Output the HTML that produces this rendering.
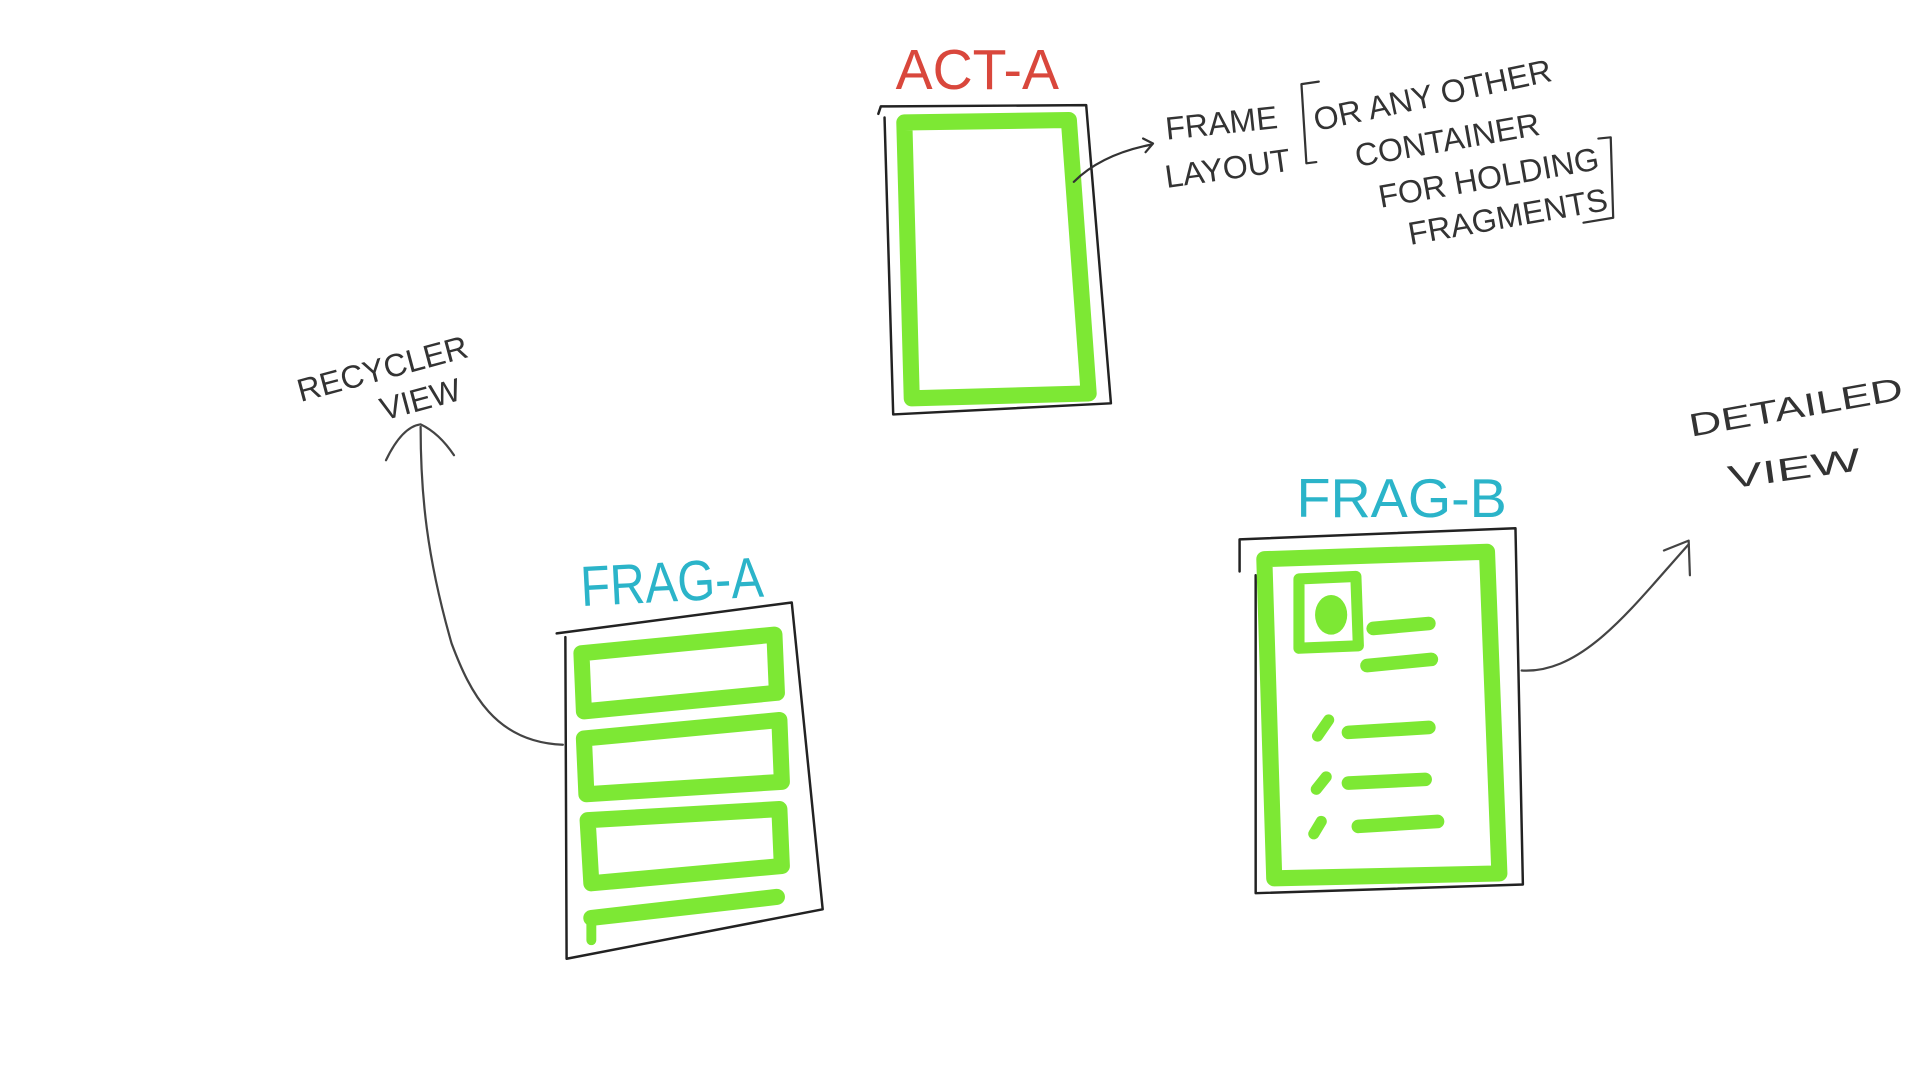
<!DOCTYPE html>
<html><head><meta charset="utf-8"><style>
html,body{margin:0;padding:0;background:#fff;width:1920px;height:1080px;overflow:hidden}
svg{display:block}
text{font-family:"Liberation Sans",sans-serif;}
.k{fill:#333;font-size:26px}
</style></head><body>
<svg width="1920" height="1080" viewBox="0 0 1552 873" xmlns="http://www.w3.org/2000/svg">
<g fill="none" stroke-linecap="round" stroke-linejoin="round">
<path d="M710,92 L712,86 L878,85 L898,326 L722,335 L715,95" stroke="#222" stroke-width="2"/>
<path d="M731,99 L864,97 L880,318 L737,322 Z" stroke="#7de834" stroke-width="13"/>
<path d="M868,147 Q890,125 930,117" stroke="#333" stroke-width="1.8"/>
<path d="M924,112 L932,116 L926,123" stroke="#333" stroke-width="1.8"/>
<path d="M1066,66 L1052,68 L1056,132 L1064,131" stroke="#333" stroke-width="1.8"/>
<path d="M1292,112 L1302,111 L1304,176 L1280,180" stroke="#333" stroke-width="1.8"/>
<path d="M455,602 C400,600 380,560 365,520 C345,450 340,400 340,345" stroke="#444" stroke-width="1.8"/>
<path d="M312,372 Q325,345 340,343 Q355,350 367,368" stroke="#444" stroke-width="1.8"/>
<path d="M450,512 L640,487 L665,735 L458,775 L457,515" stroke="#222" stroke-width="2"/>
<path d="M470,528 L626,513 L628,560 L472,575 Z" stroke="#7de834" stroke-width="13"/>
<path d="M472,597 L630,582 L632,632 L474,642 Z" stroke="#7de834" stroke-width="13"/>
<path d="M475,663 L630,654 L632,700 L478,714 Z" stroke="#7de834" stroke-width="13"/>
<path d="M478,742 L628,725" stroke="#7de834" stroke-width="13"/>
<path d="M478,745 L478,760" stroke="#7de834" stroke-width="8"/>
<path d="M1002,462 L1002,436 L1225,427 L1231,715 L1015,722 L1015,465" stroke="#222" stroke-width="2"/>
<path d="M1022,452 L1202,446 L1212,706 L1030,710 Z" stroke="#7de834" stroke-width="13"/>
<path d="M1050,468 L1096,466 L1098,522 L1050,524 Z" stroke="#7de834" stroke-width="9"/>
<ellipse cx="1076" cy="497" rx="13" ry="16" fill="#7de834" stroke="none"/>
<path d="M1110,508 L1155,504 M1105,538 L1157,533 M1090,592 L1155,588 M1090,633 L1152,630 M1098,668 L1162,664" stroke="#7de834" stroke-width="11"/>
<path d="M1065,595 L1074,582 M1064,638 L1072,628 M1062,674 L1068,664" stroke="#7de834" stroke-width="9"/>
<path d="M1230,542 C1280,545 1320,490 1365,440" stroke="#444" stroke-width="1.8"/>
<path d="M1345,445 L1365,437 L1366,465" stroke="#444" stroke-width="1.8"/>
</g>
<text x="724" y="72" fill="#d9473c" font-size="46" textLength="132" lengthAdjust="spacingAndGlyphs">ACT-A</text>
<text x="470" y="490" fill="#2bb4c9" font-size="46" transform="rotate(-3 470 490)" textLength="148" lengthAdjust="spacingAndGlyphs">FRAG-A</text>
<text x="1048" y="418" fill="#2bb4c9" font-size="44" textLength="170" lengthAdjust="spacingAndGlyphs">FRAG-B</text>
<text class="k" x="943" y="113" transform="rotate(-6 943 113)">FRAME</text>
<text class="k" x="943" y="152" transform="rotate(-8 943 152)">LAYOUT</text>
<text class="k" x="1064" y="106" transform="rotate(-12 1064 106)">OR ANY OTHER</text>
<text class="k" x="1097" y="135" transform="rotate(-10 1097 135)">CONTAINER</text>
<text class="k" x="1116" y="168" transform="rotate(-10 1116 168)">FOR HOLDING</text>
<text class="k" x="1140" y="198" transform="rotate(-10 1140 198)">FRAGMENTS</text>
<text class="k" x="243" y="325" font-size="30" transform="rotate(-15 243 325)">RECYCLER</text>
<text class="k" x="310" y="340" font-size="30" transform="rotate(-15 310 340)">VIEW</text>
<text class="k" x="1367" y="353" font-size="34" transform="rotate(-10 1367 353)" textLength="175" lengthAdjust="spacingAndGlyphs">DETAILED</text>
<text class="k" x="1398" y="395" font-size="38" transform="rotate(-8 1398 395)" textLength="108" lengthAdjust="spacingAndGlyphs">VIEW</text>
</svg>
</body></html>
